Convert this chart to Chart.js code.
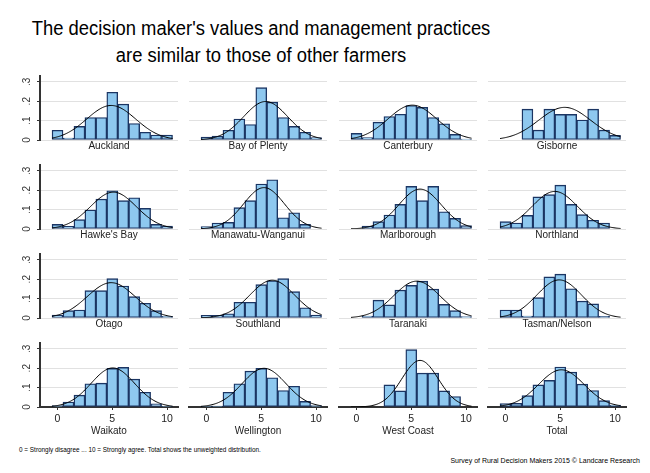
<!DOCTYPE html>
<html>
<head>
<meta charset="utf-8">
<script src="https://cdn.jsdelivr.net/npm/chart.js@4.4.0/dist/chart.umd.min.js"></script>
<style>
    body {margin:0; background:#fff; width:650px; height:473px; overflow:hidden; position:relative;
          font-family:"Liberation Sans", Arial, sans-serif;}
    canvas {position:absolute;}
    .titulo {position:absolute; left:0; top:15px; width:522px; text-align:center; font-size:20px;
             line-height:27px; color:#000; transform:scaleX(0.92);}
    .nota {position:absolute; left:19px; top:446px; font-size:6.4px; color:#000; white-space:nowrap;}
    .fuente {position:absolute; right:10px; top:457px; font-size:7px; color:#000; white-space:nowrap;}
</style>
</head>
<body>
<div class="titulo">The decision maker's values and management practices<br>are similar to those of other farmers</div>
<div class="nota">0 = Strongly disagree ... 10 = Strongly agree. Total shows the unweighted distribution.</div>
<div class="fuente">Survey of Rural Decision Makers 2015 © Landcare Research</div>
<script>
// scores 0..10, density of each bin
var bins = [0, 1, 2, 3, 4, 5, 6, 7, 8, 9, 10];
var regiones = ['Auckland', 'Bay of Plenty', 'Canterbury', 'Gisborne',
                "Hawke's Bay", 'Manawatu-Wanganui', 'Marlborough', 'Northland',
                'Otago', 'Southland', 'Taranaki', 'Tasman/Nelson',
                'Waikato', 'Wellington', 'West Coast', 'Total'];

var auckland    = [0.050, 0.010, 0.070, 0.116, 0.116, 0.246, 0.185, 0.085, 0.040, 0.026, 0.026];
var bayOfPlenty = [0.015, 0.020, 0.050, 0.108, 0.080, 0.270, 0.195, 0.116, 0.070, 0.040, 0.012];
var canterbury  = [0.034, 0.012, 0.092, 0.121, 0.133, 0.178, 0.168, 0.116, 0.084, 0.029, 0.005];
var gisborne    = [0, 0, 0.159, 0.051, 0.159, 0.132, 0.132, 0.103, 0.159, 0.051, 0.024];
var hawkesBay   = [0.024, 0.014, 0.048, 0.098, 0.154, 0.197, 0.146, 0.161, 0.106, 0.024, 0.015];
var manawatu    = [0.012, 0.031, 0.034, 0.110, 0.146, 0.232, 0.254, 0.058, 0.084, 0.024, 0];
var marlborough = [0, 0.015, 0.038, 0.072, 0.127, 0.220, 0.146, 0.220, 0.089, 0.055, 0.017];
var northland   = [0.038, 0.031, 0.070, 0.166, 0.177, 0.226, 0.127, 0.074, 0.045, 0.031, 0];
var otago       = [0.015, 0.038, 0.041, 0.141, 0.141, 0.203, 0.165, 0.110, 0.076, 0.038, 0.009];
var southland   = [0.014, 0.014, 0.022, 0.081, 0.081, 0.172, 0.192, 0.203, 0.136, 0.053, 0.015];
var taranaki    = [0, 0.010, 0.092, 0.068, 0.144, 0.168, 0.190, 0.149, 0.070, 0.038, 0.007];
var tasman      = [0.041, 0.041, 0.010, 0.105, 0.212, 0.226, 0.151, 0.087, 0.073, 0.008, 0];
var waikato     = [0.007, 0.026, 0.061, 0.120, 0.123, 0.199, 0.204, 0.144, 0.076, 0.016, 0.003];
var wellington  = [0.005, 0.005, 0.076, 0.120, 0.185, 0.199, 0.151, 0.085, 0.107, 0.029, 0.007];
var westCoast   = [0, 0, 0, 0.114, 0.083, 0.296, 0.175, 0.175, 0.083, 0.054, 0];
var total       = [0.017, 0.019, 0.059, 0.114, 0.137, 0.206, 0.180, 0.118, 0.085, 0.033, 0.010];

var valores = [auckland, bayOfPlenty, canterbury, gisborne, hawkesBay, manawatu, marlborough, northland,
               otago, southland, taranaki, tasman, waikato, wellington, westCoast, total];

// normal curve parameters (mean, sd)
var curvaMedia = [4.9, 5.4, 5.1, 5.4, 5.1, 5.25, 5.8, 4.5, 4.9, 6.0, 5.5, 4.9, 5.05, 5.25, 5.8, 5.1];
var curvaSd    = [2.24, 2.01, 2.22, 2.37, 2.1, 1.87, 1.94, 2.06, 2.19, 2.05, 2.1, 2.03, 1.98, 2.0, 1.66, 2.08];

var xTicks = [0, 5, 10];
var yTicks = [0, 0.1, 0.2, 0.3];
var yTickLabels = ['0', '.1', '.2', '.3'];

Chart.defaults.font.family = '"Liberation Sans", Arial, sans-serif';

var ANCHO = 138, ALTO = 64, PAD_TOP = 14, EJE_Y = 25;

function curva(media, sd) {
    var pts = [];
    for (var k = 0; k <= 110; k++) {
        var x = -0.5 + k * 0.1;
        pts.push({x: x, y: Math.exp(-0.5 * Math.pow((x - media) / sd, 2)) / (sd * Math.sqrt(2 * Math.PI))});
    }
    return pts;
}

function crearPanel(i) {
    var r = Math.floor(i / 4), c = i % 4;
    var abajo = r === 3, primera = c === 0;
    var altoX = abajo ? 32 : 16;
    var left = Math.round(40 + 149.4 * c) - EJE_Y;
    var top = [76, 165, 254, 343][r] - PAD_TOP;
    var canvas = document.createElement('canvas');
    canvas.width = EJE_Y + ANCHO + 3;
    canvas.height = PAD_TOP + ALTO + altoX;
    canvas.style.left = left + 'px';
    canvas.style.top = top + 'px';
    document.body.appendChild(canvas);

    new Chart(canvas.getContext('2d'), {
        type: 'bar',
        data: {
            datasets: [{
                type: 'bar',
                order: 1,
                data: bins.map(function (b, k) { return {x: b, y: valores[i][k] || null}; }),
                backgroundColor: '#8EC8EF',
                borderColor: '#1B3563',
                borderWidth: 1.4,
                borderSkipped: false,
                barPercentage: 1,
                categoryPercentage: 1
            }, {
                type: 'line',
                order: 0,
                data: curva(curvaMedia[i], curvaSd[i]),
                borderColor: '#000',
                borderWidth: 1,
                pointRadius: 0,
                fill: false
            }]
        },
        options: {
            responsive: false,
            animation: false,
            events: [],
            layout: {padding: {top: PAD_TOP, right: 3, bottom: 0, left: 0}},
            plugins: {legend: {display: false}, tooltip: {enabled: false}},
            scales: {
                x: {
                    type: 'linear', min: -1.6, max: 11.0, offset: false,
                    afterBuildTicks: function (s) { s.ticks = xTicks.map(function (v) { return {value: v}; }); },
                    afterFit: function (s) { s.height = altoX; },
                    grid: {display: abajo, offset: false, drawOnChartArea: false, drawTicks: abajo,
                           tickLength: 3, tickColor: '#333'},
                    border: {display: abajo, color: '#333', width: 2},
                    ticks: {display: abajo, padding: 3, color: '#222', font: {size: 10.5},
                            callback: function (v) { return String(v); }},
                    title: {display: true, text: regiones[i], color: '#222', font: {size: 10},
                            padding: {top: 0, bottom: abajo ? 2 : 4}}
                },
                y: {
                    type: 'linear', min: 0, max: 0.33,
                    afterBuildTicks: function (s) { s.ticks = yTicks.map(function (v) { return {value: v}; }); },
                    afterFit: function (s) { s.width = EJE_Y; },
                    grid: {color: '#e1e1e1', drawTicks: primera, tickLength: 3, tickColor: '#333'},
                    border: {display: primera, color: '#333', width: 2},
                    ticks: {display: primera, padding: 6, color: '#333', font: {size: 10},
                            minRotation: 90, maxRotation: 90, crossAlign: 'center',
                            callback: function (v, k) { return yTickLabels[k]; }}
                }
            }
        }
    });
}

for (var i = 0; i < regiones.length; i++) {
    crearPanel(i);
}
</script>
</body>
</html>
